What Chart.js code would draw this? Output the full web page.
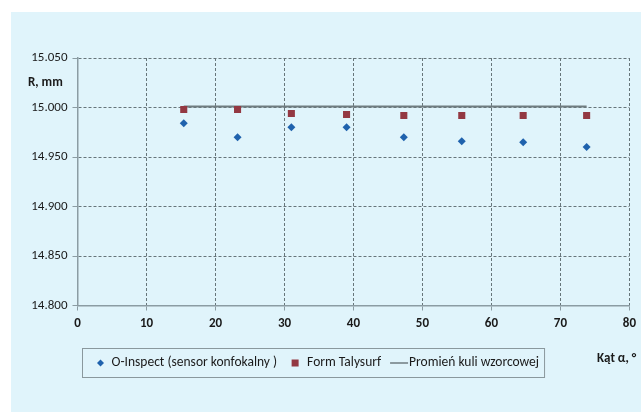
<!DOCTYPE html>
<html>
<head>
<meta charset="utf-8">
<script src="https://cdn.jsdelivr.net/npm/chart.js@4/dist/chart.umd.min.js"></script>
<style>
  html, body { margin: 0; padding: 0; background: #ffffff; }
  #wrap { position: relative; width: 641px; height: 412px; }
</style>
</head>
<body>
<div id="wrap"><canvas id="c" width="641" height="412"></canvas></div>
<script>
// Measurement angles (degrees) and sphere radius readings (mm)
const angles = [15.4, 23.2, 31.0, 39.0, 47.3, 55.7, 64.6, 73.8];
const oInspect = [14.984, 14.970, 14.980, 14.980, 14.970, 14.966, 14.965, 14.960];
const talysurf = [14.998, 14.998, 14.994, 14.993, 14.992, 14.992, 14.992, 14.992];
// Nominal radius of the reference sphere, drawn across the measured angle range
const nominalAngles = [15.4, 73.8];
const nominalRadius = [15.001, 15.001];

const seriesNames = ['O-Inspect (sensor konfokalny )', 'Form Talysurf', 'Promień kuli wzorcowej'];
const xTicks = [0, 10, 20, 30, 40, 50, 60, 70, 80];
const yTicks = [14.800, 14.850, 14.900, 14.950, 15.000, 15.050];

const FONT = 'Carlito, Calibri, Lato, "Liberation Sans", sans-serif';
const BLUE = '#1f62ad';
const RED = '#933842';
const LINE = '#6f7c80';
const GRID = '#66757a';
const AXIS = '#8b9ca3';
const TEXT = '#1a1a1a';

const toPoints = (xs, ys) => xs.map((x, i) => ({ x: x, y: ys[i] }));

// Light-blue panel behind the chart, plus axis captions and a boxed legend
const decor = {
  id: 'decor',
  beforeDraw(chart) {
    const ctx = chart.ctx;
    ctx.save();
    ctx.fillStyle = '#e0f4fb';
    ctx.fillRect(11, 12, chart.width - 11, chart.height - 12);
    ctx.restore();
  },
  afterDraw(chart) {
    const ctx = chart.ctx;
    ctx.save();
    ctx.fillStyle = TEXT;
    ctx.font = 'bold 13px ' + FONT;
    ctx.textBaseline = 'middle';
    ctx.textAlign = 'left';
    ctx.fillText('R, mm', 28, 83);
    ctx.fillText('Kąt α, °', 597, 359);

    // legend
    const boxL = 82, boxT = 348, boxB = 377, midY = 363;
    ctx.font = '13.5px ' + FONT;
    let x = boxL + 18.5;
    const items = [];
    items.push({ type: 'diamond', cx: x });
    x += 11;
    items.push({ type: 'text', x: x, t: seriesNames[0] });
    x += ctx.measureText(seriesNames[0]).width + 18;
    items.push({ type: 'square', cx: x });
    x += 12;
    items.push({ type: 'text', x: x, t: seriesNames[1] });
    x += ctx.measureText(seriesNames[1]).width + 9;
    items.push({ type: 'line', x: x });
    x += 19;
    items.push({ type: 'text', x: x, t: seriesNames[2] });
    x += ctx.measureText(seriesNames[2]).width + 5;
    const boxR = x;

    ctx.strokeStyle = '#8a989d';
    ctx.lineWidth = 1;
    ctx.strokeRect(boxL + 0.5, boxT + 0.5, boxR - boxL, boxB - boxT);

    items.forEach(it => {
      if (it.type === 'diamond') {
        ctx.fillStyle = BLUE;
        ctx.beginPath();
        ctx.moveTo(it.cx, midY - 3.5);
        ctx.lineTo(it.cx + 3.5, midY);
        ctx.lineTo(it.cx, midY + 3.5);
        ctx.lineTo(it.cx - 3.5, midY);
        ctx.closePath();
        ctx.fill();
      } else if (it.type === 'square') {
        ctx.fillStyle = RED;
        ctx.fillRect(it.cx - 3.5, midY - 3.5, 7, 7);
      } else if (it.type === 'line') {
        ctx.strokeStyle = LINE;
        ctx.lineWidth = 1.5;
        ctx.beginPath();
        ctx.moveTo(it.x, midY);
        ctx.lineTo(it.x + 18, midY);
        ctx.stroke();
      } else {
        ctx.fillStyle = TEXT;
        ctx.fillText(it.t, it.x, midY);
      }
    });
    ctx.restore();
  }
};

new Chart(document.getElementById('c'), {
  type: 'scatter',
  data: {
    datasets: [
      {
        label: seriesNames[2],
        data: toPoints(nominalAngles, nominalRadius),
        showLine: true,
        borderColor: LINE,
        borderWidth: 2,
        pointRadius: 0,
        order: 3
      },
      {
        label: seriesNames[0],
        data: toPoints(angles, oInspect),
        pointStyle: 'rectRot',
        pointRadius: 4,
        backgroundColor: BLUE,
        borderColor: BLUE,
        borderWidth: 0,
        order: 1
      },
      {
        label: seriesNames[1],
        data: toPoints(angles, talysurf),
        pointStyle: 'rect',
        pointRadius: 5,
        backgroundColor: RED,
        borderColor: RED,
        borderWidth: 0,
        order: 2
      }
    ]
  },
  options: {
    responsive: false,
    animation: false,
    devicePixelRatio: 1,
    layout: { padding: { top: 58, right: 10.5, bottom: 76.5, left: 0 } },
    plugins: {
      legend: { display: false },
      tooltip: { enabled: false }
    },
    scales: {
      x: {
        type: 'linear',
        min: xTicks[0],
        max: xTicks[xTicks.length - 1],
        afterBuildTicks(scale) { scale.ticks = xTicks.map(v => ({ value: v })); },
        afterFit(scale) { scale.height = 30; },
        grid: { color: GRID, lineWidth: 1, tickLength: 5, tickColor: AXIS, drawTicks: true },
        border: { color: AXIS, width: 1.5, dash: [3, 2] },
        ticks: {
          color: TEXT,
          font: { family: FONT, size: 13, weight: 'bold' },
          padding: 5,
          callback: v => String(v)
        }
      },
      y: {
        type: 'linear',
        min: yTicks[0],
        max: yTicks[yTicks.length - 1],
        afterBuildTicks(scale) { scale.ticks = yTicks.map(v => ({ value: v })); },
        afterFit(scale) { scale.width = 77.5; },
        grid: { color: GRID, lineWidth: 1, tickLength: 5, tickColor: AXIS, drawTicks: true },
        border: { color: AXIS, width: 1.5, dash: [3, 2] },
        ticks: {
          color: TEXT,
          font: { family: FONT, size: 13 },
          padding: 5,
          callback: v => Number(v).toFixed(3)
        }
      }
    }
  },
  plugins: [decor]
});
</script>
</body>
</html>
